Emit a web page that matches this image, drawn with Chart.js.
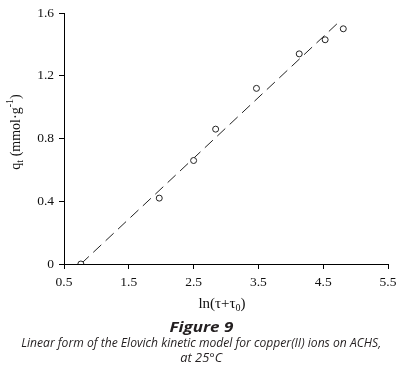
<!DOCTYPE html>
<html><head><meta charset="utf-8">
<script src="https://cdn.jsdelivr.net/npm/chart.js@4"></script>
<style>
html,body{margin:0;padding:0;background:#fff;width:402px;height:370px;overflow:hidden;}
#wrap{position:relative;width:402px;height:370px;}
#c{position:absolute;left:0;top:0;}
.cap{position:absolute;left:0;width:402px;text-align:center;font-family:"Open Sans",sans-serif;font-style:italic;color:#231f20;white-space:nowrap;}
.cap span{display:inline-block;transform-origin:center;}
</style></head>
<body><div id="wrap">
<canvas id="c" width="402" height="320"></canvas>
<div class="cap" id="f1" style="top:318px;font-size:13.5px;font-weight:700;"><span>Figure 9</span></div>
<div class="cap" id="f2" style="top:333px;font-size:13px;"><span>Linear form of the Elovich kinetic model for copper(II) ions on ACHS,</span></div>
<div class="cap" id="f3" style="top:348px;font-size:13px;"><span>at 25°C</span></div>
</div>
<script>
const xValues = [0.76, 1.97, 2.50, 2.84, 3.47, 4.13, 4.53, 4.81];
const qtValues = [0.00, 0.42, 0.66, 0.86, 1.12, 1.34, 1.43, 1.50];
const fitX = [0.76, 4.76];
const fitY = [0.00, 1.55];
const xTicks = [0.5, 1.5, 2.5, 3.5, 4.5, 5.5];
const yTicks = [0, 0.4, 0.8, 1.2, 1.6];

// scale caption line widths
(function(){
  const targets = {f2: 360, f1: 64, f3: 42};
  for (const id in targets) {
    const sp = document.querySelector('#' + id + ' span');
    const w = sp.getBoundingClientRect().width;
    if (w > 0) sp.style.transform = 'scaleX(' + (targets[id] / w) + ')';
  }
})();

const tickFont = {family: '"Liberation Serif", "Times New Roman", serif', size: 13.5};

function drawRich(ctx, segs, x, y, baseSize) {
  const fam = '"Liberation Serif", "Times New Roman", serif';
  let total = 0;
  const parts = segs.map(sg => {
    const size = sg.s === 'n' ? baseSize : Math.round(baseSize * 0.68);
    ctx.font = size + 'px ' + fam;
    const w = ctx.measureText(sg.t).width;
    total += w;
    return {t: sg.t, size, w, dy: sg.s === 'sub' ? baseSize * 0.28 : (sg.s === 'sup' ? -baseSize * 0.38 : 0)};
  });
  let cx = x - total / 2;
  ctx.textBaseline = 'middle';
  ctx.textAlign = 'left';
  for (const p of parts) {
    ctx.font = p.size + 'px ' + fam;
    ctx.fillText(p.t, cx, y + p.dy);
    cx += p.w;
  }
}

const titlesPlugin = {
  id: 'titles',
  afterDraw(chart) {
    const ctx = chart.ctx;
    ctx.save();
    ctx.fillStyle = '#111';
    drawRich(ctx, [{t: 'ln(τ+τ', s: 'n'}, {t: '0', s: 'sub'}, {t: ')', s: 'n'}], 222, 304, 15);
    ctx.translate(16, 132);
    ctx.rotate(-Math.PI / 2);
    drawRich(ctx, [{t: 'q', s: 'n'}, {t: 't', s: 'sub'}, {t: ' (mmol·g', s: 'n'}, {t: '-1', s: 'sup'}, {t: ')', s: 'n'}], 0, 0, 14);
    ctx.restore();
  }
};

new Chart(document.getElementById('c'), {
  type: 'scatter',
  data: {
    datasets: [
      {
        label: 'qt',
        data: xValues.map((x, i) => ({x, y: qtValues[i]})),
        pointStyle: 'circle',
        pointRadius: 3,
        pointBorderWidth: 1,
        pointBorderColor: '#222',
        pointBackgroundColor: '#fff',
        showLine: false,
        order: 1
      },
      {
        label: 'fit',
        data: fitX.map((x, i) => ({x, y: fitY[i]})),
        showLine: true,
        borderColor: '#222',
        borderWidth: 1,
        borderDash: [11, 6],
        pointRadius: 0,
        order: 2
      }
    ]
  },
  options: {
    responsive: false,
    animation: false,
    events: [],
    layout: {padding: {left: 0, right: 14, top: 12, bottom: 0}},
    plugins: {legend: {display: false}, tooltip: {enabled: false}},
    scales: {
      x: {
        type: 'linear', min: 0.5, max: 5.5,
        afterBuildTicks: s => { s.ticks = xTicks.map(v => ({value: v})); },
        afterFit: s => { s.height = 56; },
        grid: {display: true, drawOnChartArea: false, drawTicks: true, tickLength: 5, color: '#000', lineWidth: 1},
        border: {display: true, color: '#000', width: 1},
        ticks: {font: tickFont, color: '#111', padding: 5, maxRotation: 0, callback: v => v.toFixed(1)}
      },
      y: {
        type: 'linear', min: 0, max: 1.6,
        afterBuildTicks: s => { s.ticks = yTicks.map(v => ({value: v})); },
        afterFit: s => { s.width = 64; },
        grid: {display: true, drawOnChartArea: false, drawTicks: true, tickLength: 5, color: '#000', lineWidth: 1},
        border: {display: true, color: '#000', width: 1},
        ticks: {font: tickFont, color: '#111', padding: 5, callback: v => v === 0 ? '0' : v.toFixed(1)}
      }
    }
  },
  plugins: [titlesPlugin]
});
</script>
</body></html>
